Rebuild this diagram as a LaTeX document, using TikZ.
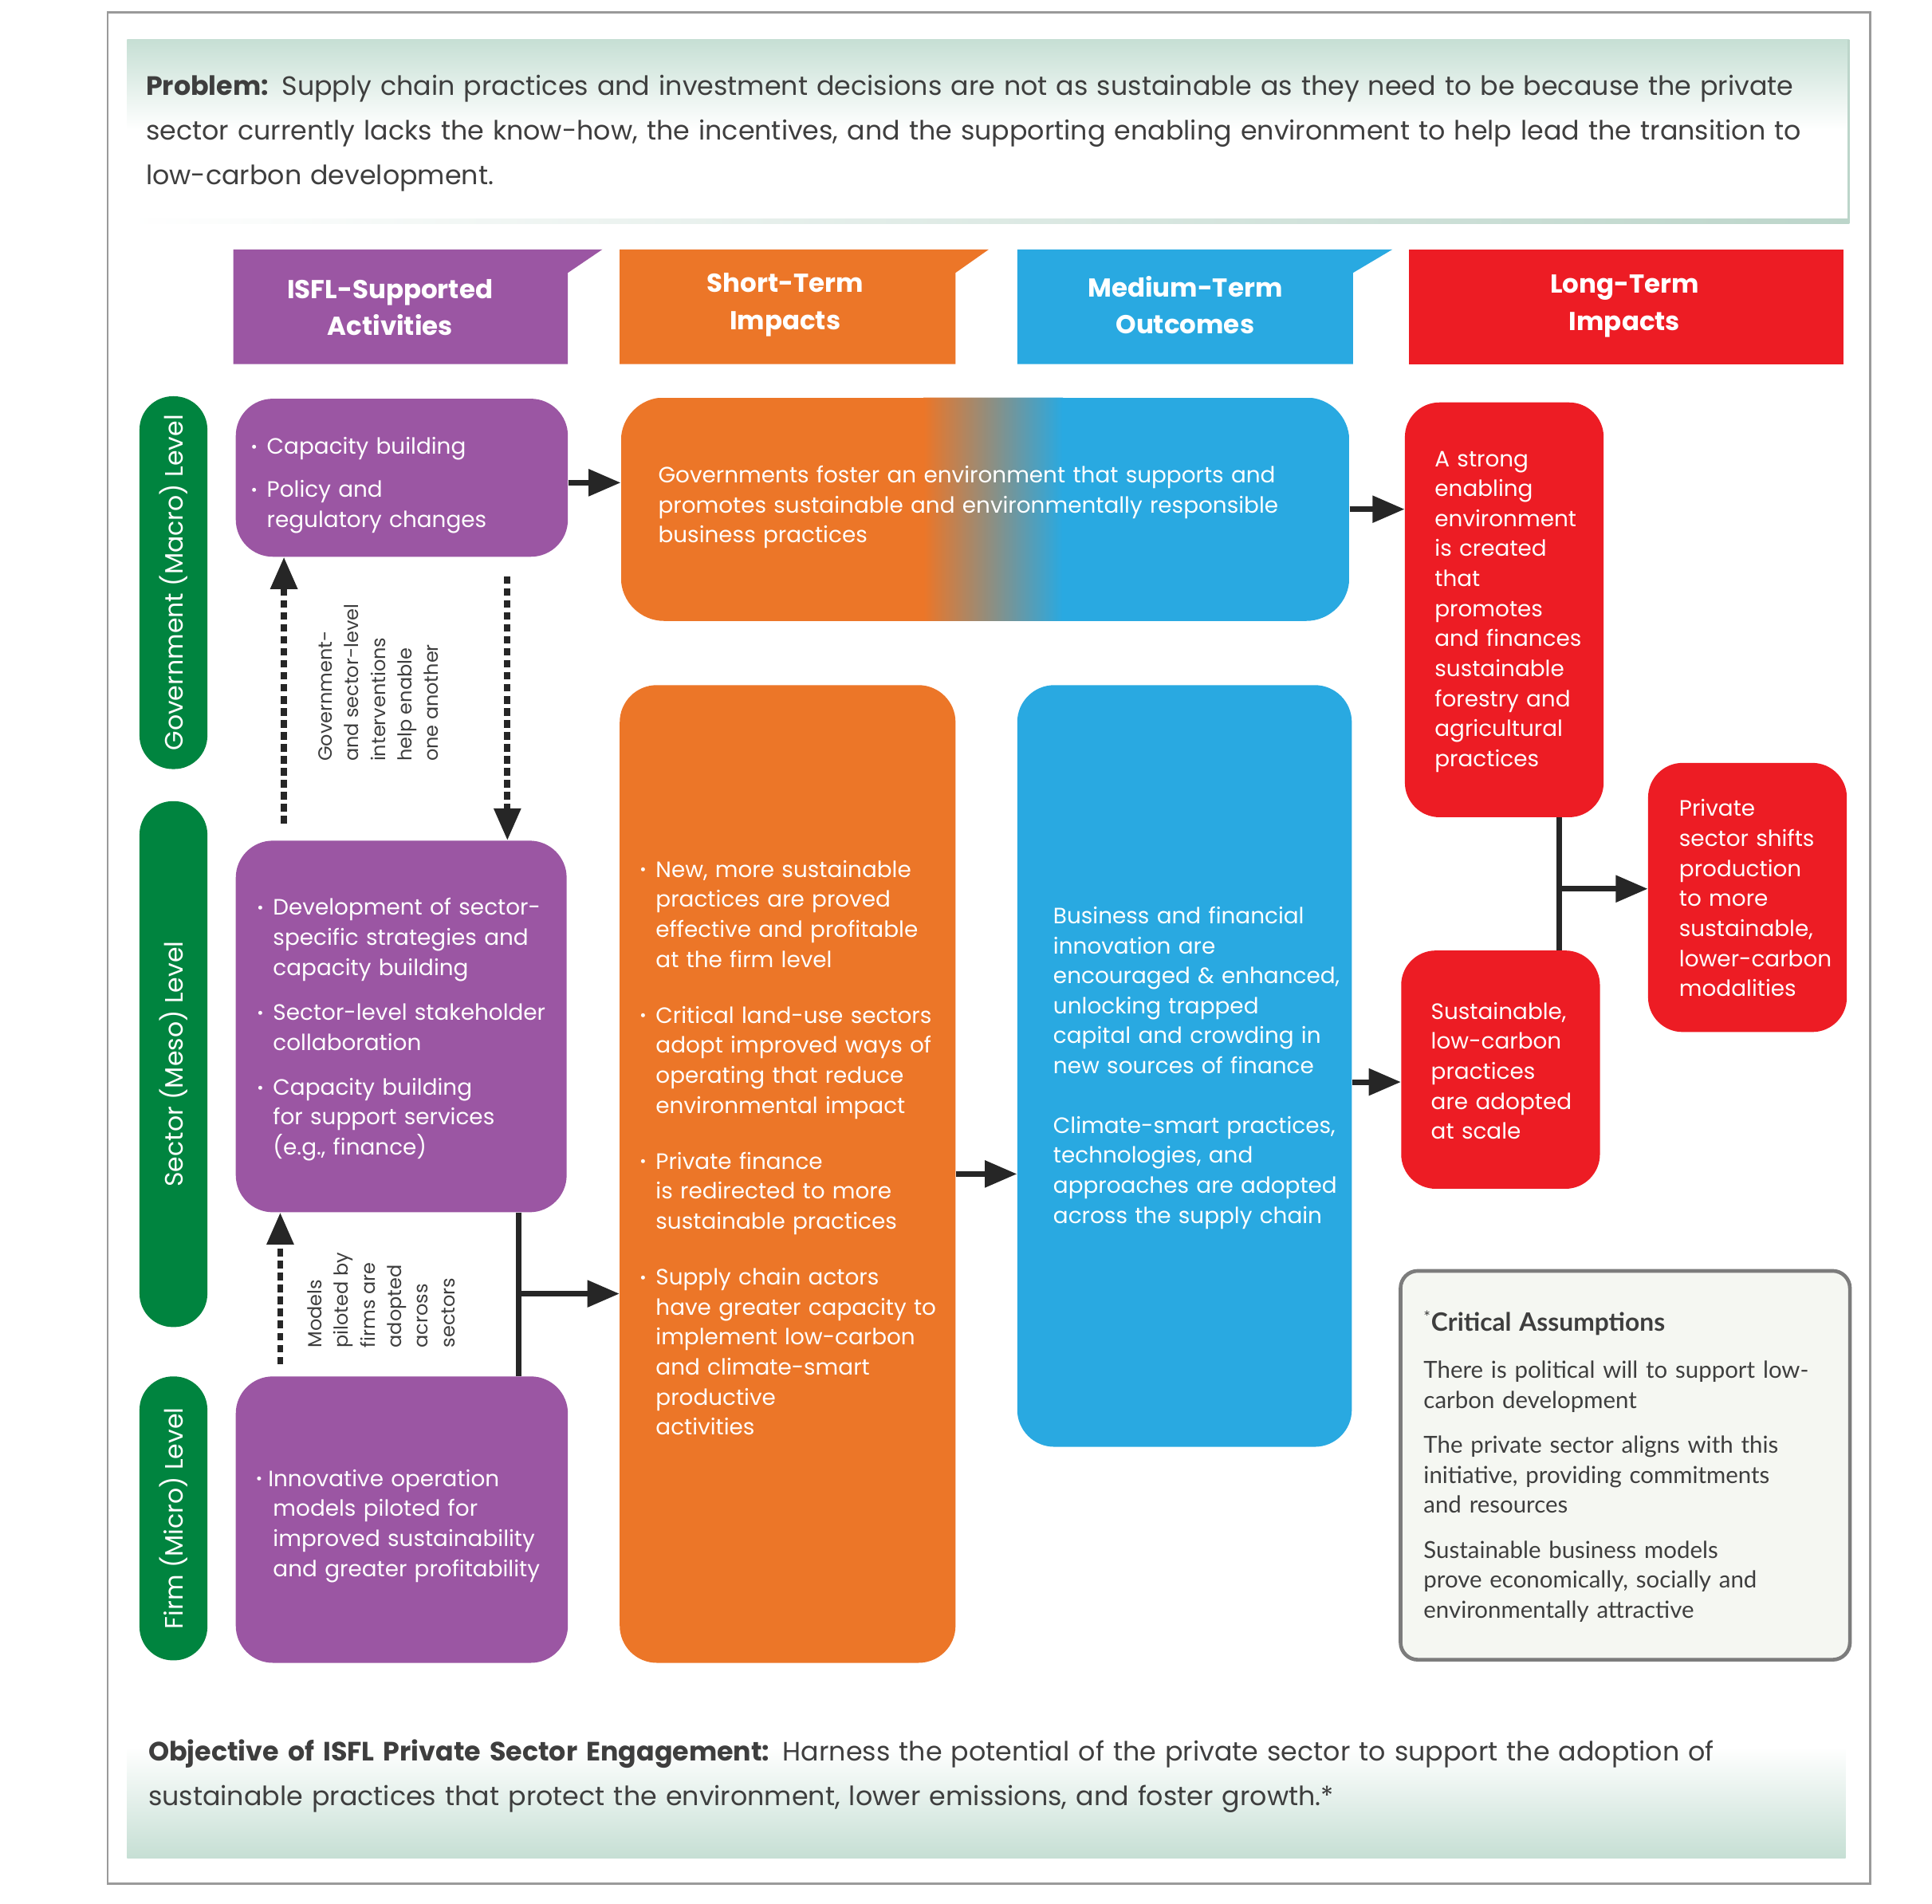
\documentclass[tikz,border=0pt]{standalone}
\usepackage{fontspec}
\setmainfont{Poppins}
\newfontfamily\latofont{Lato}
\usetikzlibrary{arrows.meta}
\definecolor{cpurple}{HTML}{9B56A3}
\definecolor{corange}{HTML}{EC7628}
\definecolor{cblue}{HTML}{29A9E1}
\definecolor{cred}{HTML}{ED1C24}
\definecolor{cgreen}{HTML}{00843F}
\definecolor{carrow}{HTML}{262626}
\definecolor{ctext}{HTML}{3E3E3E}
\definecolor{cpanel}{HTML}{C6DFD4}
\definecolor{cpanelline}{HTML}{BCD5CA}
\definecolor{cframe}{HTML}{9A9A9A}
\definecolor{cassum}{HTML}{F5F7F2}
\definecolor{cassumb}{HTML}{7C7C7C}
% bullet item: [bullet box width]{text width}{lines}
\newcommand{\bul}[3][13pt]{\par\noindent\makebox[#1][l]{\raisebox{0.08em}{\fontsize{13}{13}\selectfont\textbullet}}\parbox[t]{#2}{\strut#3\strut}\par\prevdepth=\dp\strutbox}
\begin{document}
\begin{tikzpicture}[x=1pt,y=-1pt,
  box/.style={draw=none, inner sep=0pt, rounded corners=30pt},
  pill/.style={fill=cgreen, rounded corners=27pt, minimum height=55pt, inner sep=0pt, rotate=90, text=white, font=\fontsize{20.4}{24}\selectfont},
  head/.style={text=white, inner sep=0pt, align=center, font=\bfseries\fontsize{21}{30}\selectfont},
  body/.style={text=white, inner sep=0pt, align=left, anchor=west, font=\fontsize{18}{24.3}\selectfont},
  small/.style={text=ctext, inner sep=0pt, align=left, rotate=90, anchor=north west, font=\fontsize{15.5}{21.5}\selectfont},
  wide/.style={text=ctext, inner sep=0pt, align=left, anchor=west, text width=1420pt, font=\fontsize{21.5}{36}\selectfont},
  arr/.style={draw=carrow, line width=4.5pt, -{Triangle[length=26pt,width=21pt]}},
  dotarr/.style={draw=carrow, line width=5pt, dash pattern=on 6pt off 3.7pt, -{Triangle[length=26pt,width=21pt]}},
  conn/.style={draw=carrow, line width=4.5pt}]
\useasboundingbox (0,0) rectangle (1565,1542);
\fill[white] (0,0) rectangle (1565,1542);
% frame
\draw[cframe, line width=1.5pt] (87,10) rectangle (1515,1526);
% problem panel
\shade[top color=cpanel, bottom color=white] (103,32) rectangle (1498,105);
\shade[left color=white, right color=cpanelline] (103,177) rectangle (1498,181);
\fill[cpanelline] (1496.5,32) rectangle (1498.5,181);
\node[wide] (prob) at (118,108) {\textbf{Problem:} Supply chain practices and investment decisions are not as sustainable as they need to be because the private\\sector currently lacks the know-how, the incentives, and the supporting enabling environment to help lead the transition to\\low-carbon development.};
% objective panel
\shade[top color=white, bottom color=cpanel] (103,1415) rectangle (1495,1505);
\node[wide] (obj) at (120,1439) {\textbf{Objective of ISFL Private Sector Engagement:} Harness the potential of the private sector to support the adoption of\\sustainable practices that protect the environment, lower emissions, and foster growth.*};
% headers
\fill[cpurple] (189,295) -- (189,202) -- (488,202) -- (460,221) -- (460,295) -- cycle;
\node[head] (h1) at (316,249) {ISFL-Supported\\Activities};
\fill[corange] (502,295) -- (502,202) -- (801,202) -- (774,221) -- (774,295) -- cycle;
\node[head] (h2) at (636,247) {Short-Term\\Impacts};
\fill[cblue] (824,295) -- (824,202) -- (1128,202) -- (1096,221) -- (1096,295) -- cycle;
\node[head] (h3) at (960,247) {Medium-Term\\Outcomes};
\fill[cred] (1141,202) rectangle (1493,295);
\node[head] (h4) at (1316,248) {Long-Term\\Impacts};
% level pills
\node[pill, minimum width=302pt] (g1) at (140.5,472) {Government (Macro) Level};
\node[pill, minimum width=426pt] (g2) at (140.5,862) {Sector (Meso) Level};
\node[pill, minimum width=230pt] (g3) at (140.5,1230) {Firm (Micro) Level};
% purple boxes
\node[box, fill=cpurple, minimum width=269pt, minimum height=128pt] (P1) at (325.5,387) {};
\node[box, fill=cpurple, minimum width=268pt, minimum height=301pt] (P2) at (325,831.5) {};
\node[box, fill=cpurple, minimum width=269pt, minimum height=232pt] (P3) at (325.5,1231) {};
\node[body, text width=260pt] (tP1) at (203,389) {\bul{240pt}{Capacity building}\vskip 11pt\bul{240pt}{Policy and\\regulatory changes}};
\node[body, text width=260pt] (tP2) at (208,830) {\bul{245pt}{Development of sector-\\specific strategies and\\capacity building}\vskip 12pt\bul{245pt}{Sector-level stakeholder\\collaboration}\vskip 12pt\bul{245pt}{Capacity building\\for support services\\(e.g., finance)}};
\node[body, text width=260pt] (tP3) at (207,1232) {\bul[10pt]{245pt}{Innovative operation\\\hspace*{4pt}models piloted for\\\hspace*{4pt}improved sustainability\\\hspace*{4pt}and greater profitability}};
% gradient government box
\begin{scope}
\clip[rounded corners=35pt] (503,322) rectangle (1093,503);
\fill[corange] (503,322) rectangle (749,503);
\shade[left color=corange, right color=cblue] (748,322) rectangle (861,503);
\fill[cblue] (860,322) rectangle (1093,503);
\end{scope}
\node[box, rounded corners=35pt, minimum width=590pt, minimum height=181pt] (GB) at (798,412.5) {};
\node[body, text width=545pt] (tGB) at (533,411) {Governments foster an environment that supports and\\promotes sustainable and environmentally responsible\\business practices};
% orange tall box
\node[box, fill=corange, minimum width=272pt, minimum height=792pt] (OT) at (638,951) {};
\node[body, text width=260pt] (tOT) at (518,928) {\bul{245pt}{New, more sustainable\\practices are proved\\effective and profitable\\at the firm level}\vskip 21pt\bul{245pt}{Critical land-use sectors\\adopt improved ways of\\operating that reduce\\environmental impact}\vskip 21pt\bul{245pt}{Private finance\\is redirected to more\\sustainable practices}\vskip 21pt\bul{245pt}{Supply chain actors\\have greater capacity to\\implement low-carbon\\and climate-smart\\productive\\activities}};
% blue tall box
\node[box, fill=cblue, minimum width=271pt, minimum height=617pt] (BT) at (959.5,863.5) {};
\node[body, text width=245pt] (tBT) at (853,865) {Business and financial\\innovation are\\encouraged \& enhanced,\\unlocking trapped\\capital and crowding in\\new sources of finance\par\vskip 24pt\noindent Climate-smart practices,\\technologies, and\\approaches are adopted\\across the supply chain};
% red boxes
\node[box, rounded corners=28pt, fill=cred, minimum width=161pt, minimum height=336pt] (R1) at (1218.5,494) {};
\node[body, text width=140pt] (tR1) at (1162,495.5) {A strong\\enabling\\environment\\is created\\that\\promotes\\and finances\\sustainable\\forestry and\\agricultural\\practices};
\node[box, rounded corners=28pt, fill=cred, minimum width=161pt, minimum height=193pt] (R2) at (1215.5,866.5) {};
\node[body, text width=140pt] (tR2) at (1159,867.5) {Sustainable,\\low-carbon\\practices\\are adopted\\at scale};
\node[box, rounded corners=28pt, fill=cred, minimum width=161pt, minimum height=218pt] (R3) at (1415.5,727) {};
\node[body, text width=140pt] (tR3) at (1360,727.5) {Private\\sector shifts\\production\\to more\\sustainable,\\lower-carbon\\modalities};
% critical assumptions
\node[draw=cassumb, line width=3pt, fill=cassum, rounded corners=14pt, inner sep=0pt, minimum width=364pt, minimum height=315pt] (CA) at (1316.5,1187) {};
\node[body, text=ctext, text width=345pt, font=\latofont\fontsize{19}{24.3}\selectfont] (tCA) at (1153,1188) {\textsuperscript{*}\textbf{\fontsize{20.5}{24.3}\selectfont Critical Assumptions}\par\vskip 14pt\noindent There is political will to support low-\\carbon development\par\vskip 12pt\noindent The private sector aligns with this\\initiative, providing commitments\\and resources\par\vskip 12pt\noindent Sustainable business models\\prove economically, socially and\\environmentally attractive};
% rotated small labels
\node[small] (lab1) at (258,617) {Government-\\and sector-level\\interventions\\help enable\\one another};
\node[small] (lab2) at (249,1092) {Models\\piloted by\\firms are\\adopted\\across\\sectors};
% connectors
\draw[arr] ([yshift=-4pt]P1.east) -- ([yshift=-4pt]P1.east -| GB.west);
\draw[arr] (GB.east) -- (GB.east -| R1.west);
\coordinate (d1) at (230,667);
\draw[dotarr] (d1) -- (d1 |- P1.south);
\coordinate (d2) at (411,467);
\draw[dotarr] (d2) -- (d2 |- P2.north);
\coordinate (d3) at (227,1105);
\draw[dotarr] (d3) -- (d3 |- P2.south);
\coordinate (v1) at (420,1048);
\draw[conn] (v1 |- P2.south) -- (v1 |- P3.north);
\draw[arr] (v1) -- (v1 -| OT.west);
\draw[arr] (OT.east) -- (OT.east -| BT.west);
\draw[arr] ([yshift=-10pt]R2.west -| BT.east) -- ([yshift=-10pt]R2.west);
\coordinate (v2) at (1263,720);
\draw[conn] (v2 |- R1.south) -- (v2 |- R2.north);
\draw[arr] (v2) -- (v2 -| R3.west);
\end{tikzpicture}
\end{document}
